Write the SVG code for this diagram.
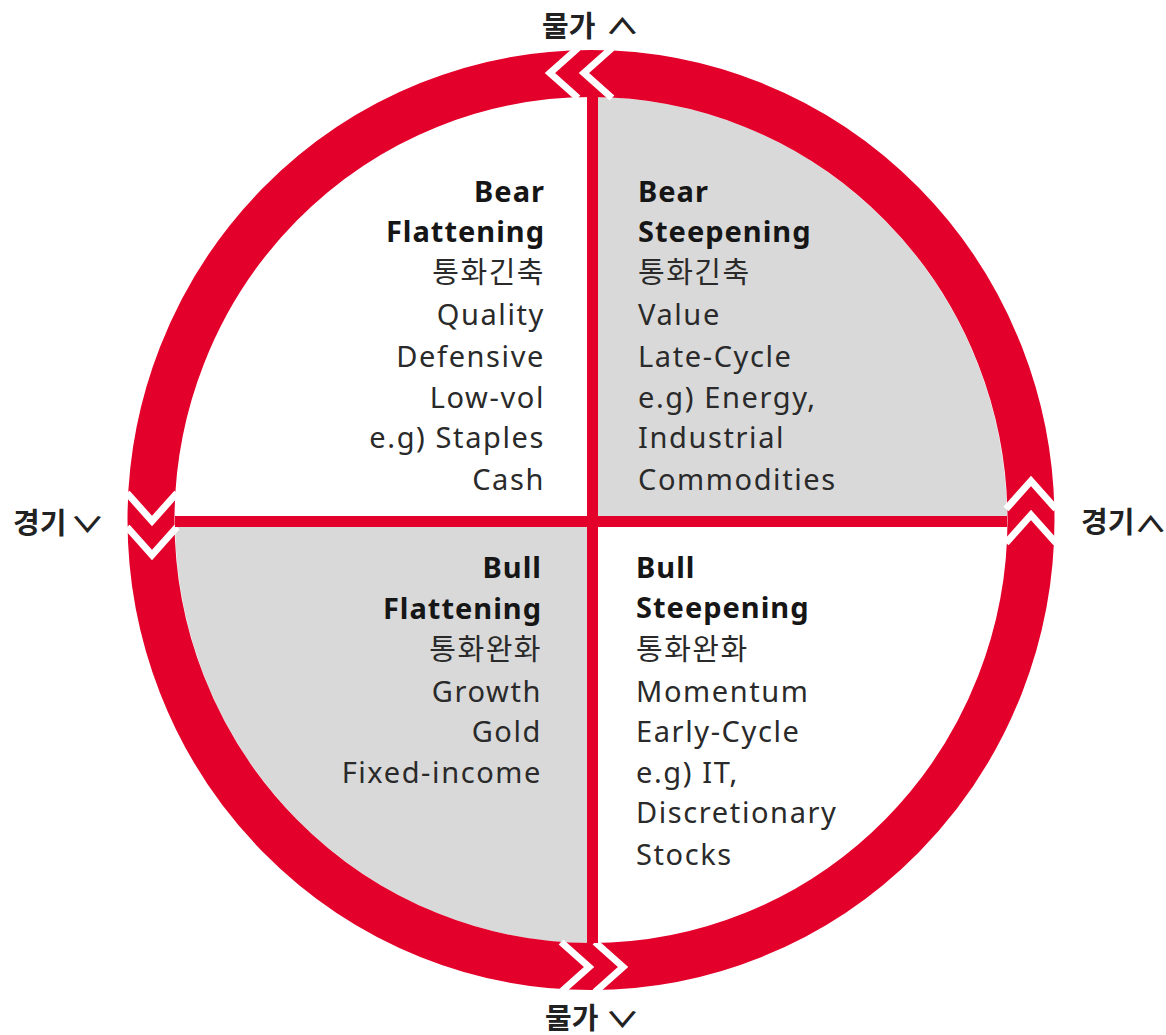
<svg xmlns="http://www.w3.org/2000/svg" width="1166" height="1035" viewBox="0 0 1166 1035">
<style>
.t{font-family:"Noto Sans","Noto Sans CJK KR",sans-serif;font-size:29px;fill:#2a2a2a;letter-spacing:1.6px}
.b{font-weight:700;fill:#161616;letter-spacing:1px}
.k{font-family:"Noto Sans CJK KR",sans-serif;font-size:29px;fill:#2a2a2a;letter-spacing:1.5px}
.e{text-anchor:end}
.lab{font-family:"Noto Sans CJK KR",sans-serif;font-size:29px;font-weight:700;fill:#222}
.car{font-family:"Noto Sans CJK KR",sans-serif;font-size:29px;font-weight:700;fill:#222}
.chev{fill:none;stroke:#fff;stroke-width:7;stroke-linejoin:miter}
</style>
<defs>
<g id="dchev">
<polyline class="chev" points="-45,-25 -17,0 -45,25"/>
<polyline class="chev" points="-11,-25 17,0 -11,25"/>
</g>
</defs>
<rect width="1166" height="1035" fill="#fff"/>
<g id="quadrants">
<path id="q-tr" d="M598,516 L598,97 A416,423 0 0 1 1007,516 Z" fill="#d9d9d9"/>
<path id="q-bl" d="M587,527 L587,943 A416,423 0 0 1 175,527 Z" fill="#d9d9d9"/>
</g>
<g id="connectors">
<ellipse id="cycle-ring" cx="591" cy="520" rx="440" ry="446.5" fill="none" stroke="#e3002b" stroke-width="47"/>
<use href="#dchev" transform="translate(567,73) rotate(180)"/>
<use href="#dchev" transform="translate(152,538) rotate(90)"/>
<use href="#dchev" transform="translate(606,967)"/>
<use href="#dchev" transform="translate(1031,498) rotate(-90)"/>
<rect x="587" y="97" width="11" height="846" fill="#e3002b"/>
<rect x="175" y="516" width="832" height="11" fill="#e3002b"/>
</g>
<g id="axis-labels">
<g id="lab-top">
<text class="lab" x="542" y="37">물가</text>
<text class="car" transform="translate(605,34) scale(1.2,0.75)">∧</text>
</g>
<g id="lab-left">
<text class="lab" x="13" y="534">경기</text>
<text class="car" transform="translate(70,532) scale(1.2,0.75)">∨</text>
</g>
<g id="lab-right">
<text class="lab" x="1081" y="533">경기</text>
<text class="car" transform="translate(1134,532) scale(1.15,0.75)">∧</text>
</g>
<g id="lab-bottom">
<text class="lab" x="545" y="1029">물가</text>
<text class="car" transform="translate(605,1027) scale(1.2,0.75)">∨</text>
</g>
</g>
<g id="bear-flattening">
<text class="t b e" x="545" y="202">Bear</text>
<text class="t b e" x="545" y="242">Flattening</text>
<text class="k e" x="545" y="283">통화긴축</text>
<text class="t e" x="545" y="325">Quality</text>
<text class="t e" x="545" y="367">Defensive</text>
<text class="t e" x="545" y="408">Low-vol</text>
<text class="t e" x="545" y="448">e.g) Staples</text>
<text class="t e" x="545" y="490">Cash</text>
</g>
<g id="bear-steepening">
<text class="t b" x="638" y="202">Bear</text>
<text class="t b" x="638" y="242">Steepening</text>
<text class="k" x="638" y="283">통화긴축</text>
<text class="t" x="638" y="325">Value</text>
<text class="t" x="638" y="367">Late-Cycle</text>
<text class="t" x="638" y="408">e.g) Energy,</text>
<text class="t" x="638" y="448">Industrial</text>
<text class="t" x="638" y="490">Commodities</text>
</g>
<g id="bull-flattening">
<text class="t b e" x="542" y="578">Bull</text>
<text class="t b e" x="542" y="619">Flattening</text>
<text class="k e" x="542" y="660">통화완화</text>
<text class="t e" x="542" y="702">Growth</text>
<text class="t e" x="542" y="742">Gold</text>
<text class="t e" x="542" y="783">Fixed-income</text>
</g>
<g id="bull-steepening">
<text class="t b" x="636" y="578">Bull</text>
<text class="t b" x="636" y="618">Steepening</text>
<text class="k" x="636" y="660">통화완화</text>
<text class="t" x="636" y="702">Momentum</text>
<text class="t" x="636" y="742">Early-Cycle</text>
<text class="t" x="636" y="783">e.g) IT,</text>
<text class="t" x="636" y="823">Discretionary</text>
<text class="t" x="636" y="865">Stocks</text>
</g>
</svg>
